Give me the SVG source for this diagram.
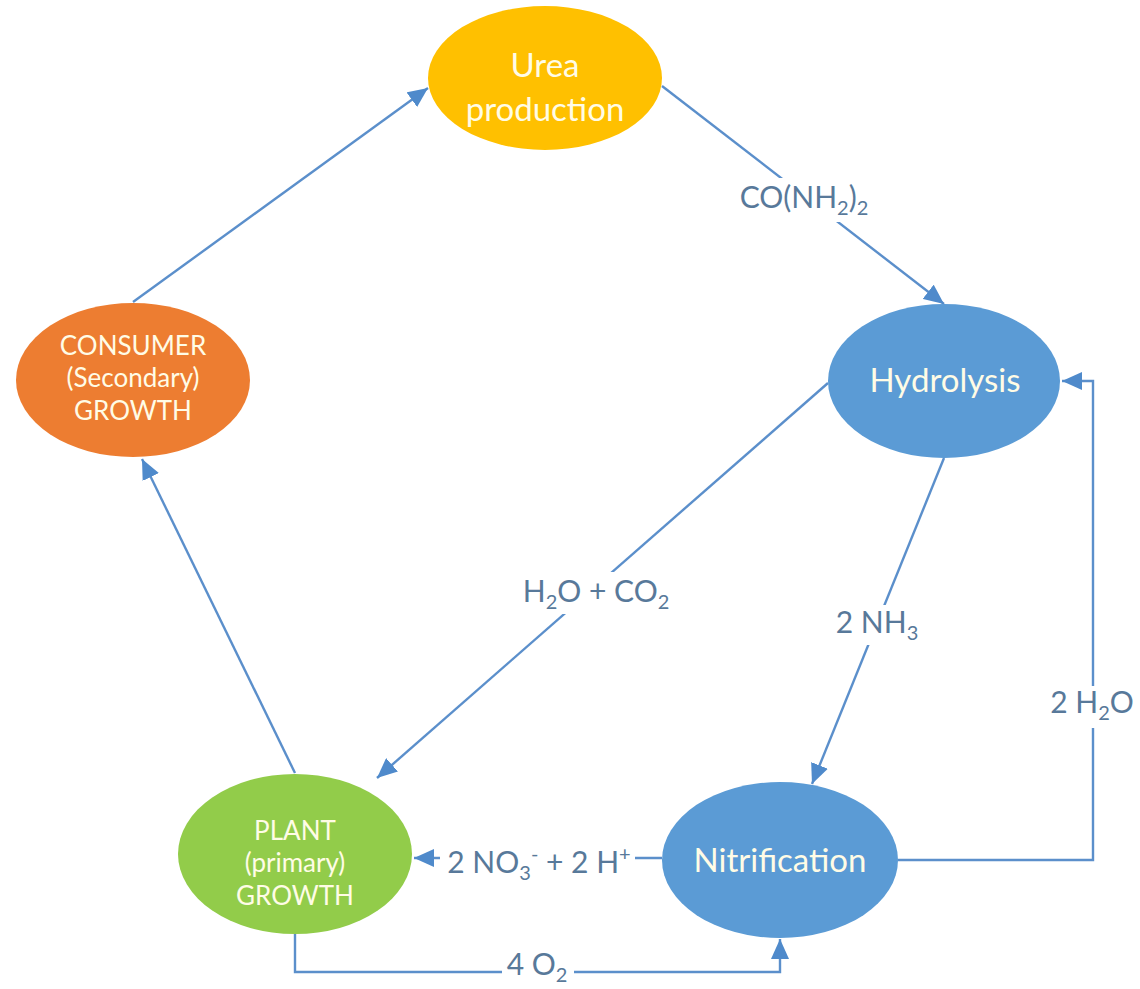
<svg xmlns="http://www.w3.org/2000/svg" width="1140" height="989" viewBox="0 0 1140 989">
<style>
.conn{fill:none;stroke:#5B8FCB;stroke-width:2.4}
.ntext{font-family:Lato,"Open Sans","Liberation Sans",sans-serif;fill:#FFFCE6;text-anchor:middle}
.big{font-size:33px}
.small{font-size:26px}
.lbl{font-family:Lato,"Open Sans","Liberation Sans",sans-serif;font-size:30px;fill:#58799A;text-anchor:middle}
.sub{font-size:20px}
.bg{fill:#FFFFFF}
</style>
<defs>
<marker id="arr" markerUnits="userSpaceOnUse" markerWidth="20" markerHeight="18" refX="20" refY="9" orient="auto">
<path d="M0,0 L20,9 L0,18 z" fill="#4F8ACB"/>
</marker>
</defs>
<rect width="1140" height="989" fill="#FFFFFF"/>
<g id="connectors">
<line class="conn" x1="133" y1="302" x2="428" y2="88" marker-end="url(#arr)"/>
<line class="conn" x1="662" y1="86" x2="944" y2="304" marker-end="url(#arr)"/>
<line class="conn" x1="828" y1="383" x2="377" y2="778" marker-end="url(#arr)"/>
<line class="conn" x1="944" y1="458" x2="812" y2="784" marker-end="url(#arr)"/>
<polyline class="conn" points="898,860 1093,860 1093,381 1062,381" marker-end="url(#arr)"/>
<line class="conn" x1="662" y1="858" x2="414" y2="858" marker-end="url(#arr)"/>
<polyline class="conn" points="295,934 295,972 780,972 780,939" marker-end="url(#arr)"/>
<line class="conn" x1="295" y1="773" x2="142" y2="459" marker-end="url(#arr)"/>
<g id="labels">
<rect class="bg" x="730" y="178" width="148" height="44"/>
<text class="lbl" x="804" y="208">CO(NH<tspan class="sub" dy="7">2</tspan><tspan dy="-7">)</tspan><tspan class="sub" dy="7">2</tspan></text>
<rect class="bg" x="515" y="572" width="162" height="42"/>
<text class="lbl" x="596" y="602">H<tspan class="sub" dy="7">2</tspan><tspan dy="-7">O + CO</tspan><tspan class="sub" dy="7">2</tspan></text>
<rect class="bg" x="830" y="605" width="95" height="40"/>
<text class="lbl" x="877" y="633">2 NH<tspan class="sub" dy="7">3</tspan></text>
<rect class="bg" x="1048" y="686" width="90" height="42"/>
<text class="lbl" x="1092" y="713">2 H<tspan class="sub" dy="7">2</tspan><tspan dy="-7">O</tspan></text>
<rect class="bg" x="440" y="838" width="195" height="46"/>
<text class="lbl" x="539" y="873">2 NO<tspan class="sub" dy="7">3</tspan><tspan class="sub" dy="-19">-</tspan><tspan dy="12"> + 2 H</tspan><tspan class="sub" dy="-12">+</tspan></text>
<rect class="bg" x="502" y="950" width="72" height="38"/>
<text class="lbl" x="537" y="975">4 O<tspan class="sub" dy="7">2</tspan></text>
</g>
</g>
<g id="urea">
<ellipse cx="545" cy="78" rx="117" ry="72" fill="#FFC000"/>
<text class="ntext big" x="545" y="77">Urea</text>
<text class="ntext big" x="545" y="121">production</text>
</g>
<g id="hydrolysis">
<ellipse cx="944" cy="381" rx="116" ry="77" fill="#5B9BD5"/>
<text class="ntext big" x="945" y="392">Hydrolysis</text>
</g>
<g id="consumer">
<ellipse cx="133" cy="380" rx="117" ry="77" fill="#ED7D31"/>
<text class="ntext small" x="133" y="355">CONSUMER</text>
<text class="ntext small" x="133" y="387">(Secondary)</text>
<text class="ntext small" x="133" y="420">GROWTH</text>
</g>
<g id="plant">
<ellipse cx="295" cy="854" rx="117" ry="80" fill="#92CC4A"/>
<text class="ntext small" x="295" y="840">PLANT</text>
<text class="ntext small" x="295" y="872">(primary)</text>
<text class="ntext small" x="295" y="905">GROWTH</text>
</g>
<g id="nitrification">
<ellipse cx="780" cy="860" rx="118" ry="78" fill="#5B9BD5"/>
<text class="ntext big" x="780" y="872">Nitrification</text>
</g>
</svg>
